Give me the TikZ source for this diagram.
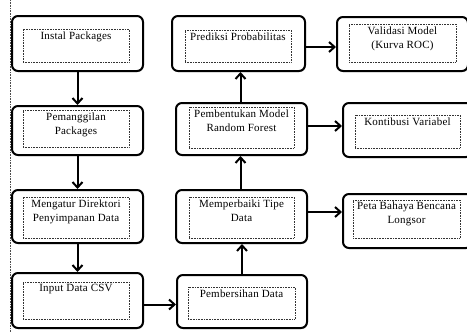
\documentclass[tikz,border=0pt]{standalone}
\usepackage{fontspec}
\setmainfont{Liberation Serif}[LetterSpace=2]
\usetikzlibrary{arrows.meta,shadows}
\tikzset{
  outerbox/.style={draw, rounded corners=6pt, line width=2pt, inner sep=0pt, fill=white,
    drop shadow={shadow xshift=0.6pt, shadow yshift=-1.2pt, opacity=0.35}},
  innerbox/.style={draw, densely dotted, line width=0.6pt, inner sep=0pt, draw=black!80},
  txt/.style={anchor=north, align=center, inner sep=2.5pt, font=\fontsize{11}{14}\selectfont},
  arr/.style={line width=2pt, -{Straight Barb[length=5.5pt,width=10pt,line width=2pt]}}
}
\begin{document}
\begin{tikzpicture}[x=1pt,y=-1pt]
\useasboundingbox (0,0) rectangle (467,332);
\draw[densely dotted, line width=0.6pt, black!70] (10,0) coordinate (lt) -- (10,332) coordinate (lb);
% left column
\node[outerbox, minimum width=131pt, minimum height=55pt] (b1) at (77.5,43.5) {};
\node[innerbox, minimum width=106pt, minimum height=33pt, label={[txt]north:Instal Packages}] (b1i) at (76,45.5) {};
\node[outerbox, minimum width=131pt, minimum height=49pt] (b2) at (77.5,130.5) {};
\node[innerbox, minimum width=106pt, minimum height=37pt, label={[txt]north:Pemanggilan\\Packages}] (b2i) at (76,128.5) {};
\node[outerbox, minimum width=131pt, minimum height=53pt] (b3) at (77.5,216.5) {};
\node[innerbox, minimum width=106pt, minimum height=41pt, label={[txt]north:Mengatur Direktori\\Penyimpanan Data}] (b3i) at (76,217.5) {};
\node[outerbox, minimum width=131pt, minimum height=55pt] (b4) at (77.5,300.5) {};
\node[innerbox, minimum width=106pt, minimum height=37pt, label={[txt]north:Input Data CSV}] (b4i) at (76,300.5) {};
% middle column
\node[outerbox, minimum width=133pt, minimum height=55pt] (m1) at (238.5,43.5) {};
\node[innerbox, minimum width=106pt, minimum height=32pt, label={[txt]north:Prediksi Probabilitas}] (m1i) at (238,46) {};
\node[outerbox, minimum width=131pt, minimum height=52pt] (m2) at (241.5,129) {};
\node[innerbox, minimum width=105pt, minimum height=41pt, label={[txt]north:Pembentukan Model\\Random Forest}] (m2i) at (241.5,127.5) {};
\node[outerbox, minimum width=131pt, minimum height=53pt] (m3) at (241.5,216.5) {};
\node[innerbox, minimum width=105pt, minimum height=41pt, label={[txt]north:Memperbaiki Tipe\\Data}] (m3i) at (241.5,217.5) {};
\node[outerbox, minimum width=130pt, minimum height=53pt] (m4) at (242,301.5) {};
\node[innerbox, minimum width=107pt, minimum height=32pt, label={[txt]north:Pembersihan Data}] (m4i) at (241.5,303) {};
% right column
\node[outerbox, minimum width=131pt, minimum height=54pt] (r1) at (402.5,44) {};
\node[innerbox, minimum width=107pt, minimum height=38pt, label={[txt]north:Validasi Model\\(Kurva ROC)}] (r1i) at (402.5,43) {};
\node[outerbox, minimum width=129pt, minimum height=54pt] (r2) at (407.5,130) {};
\node[innerbox, minimum width=105pt, minimum height=33pt, label={[txt]north:Kontibusi Variabel}] (r2i) at (407.5,131.5) {};
\node[outerbox, minimum width=129pt, minimum height=54pt] (r3) at (407.5,221) {};
\node[innerbox, minimum width=107pt, minimum height=38pt, label={[txt,inner sep=1.5pt]north:Peta Bahaya Bencana\\Longsor}] (r3i) at (406.5,219) {};
% connectors
\draw[arr] (b1.south) -- (b2.north);
\draw[arr] (b2.south) -- (b3.north);
\draw[arr] (b3.south) -- (b4.north);
\draw[arr] ([yshift=-4pt]b4.east) -- ([yshift=-4pt]b4.east -| m4.west);
\draw[arr] (m4.north) -- (m4.north |- m3.south);
\draw[arr] ([xshift=-1pt]m3.north) -- ([xshift=-1pt]m3.north |- m2.south);
\draw[arr] ([xshift=-1pt]m2.north) -- ([xshift=-1pt]m2.north |- m1.south);
\draw[arr] ([yshift=-3.5pt]m1.east) -- ([yshift=-3.5pt]m1.east -| r1.west);
\draw[arr] ([yshift=3pt]m2.east) -- ([yshift=3pt]m2.east -| r2.west);
\draw[arr] ([yshift=4.5pt]m3.east) -- ([yshift=4.5pt]m3.east -| r3.west);
\end{tikzpicture}
\end{document}
